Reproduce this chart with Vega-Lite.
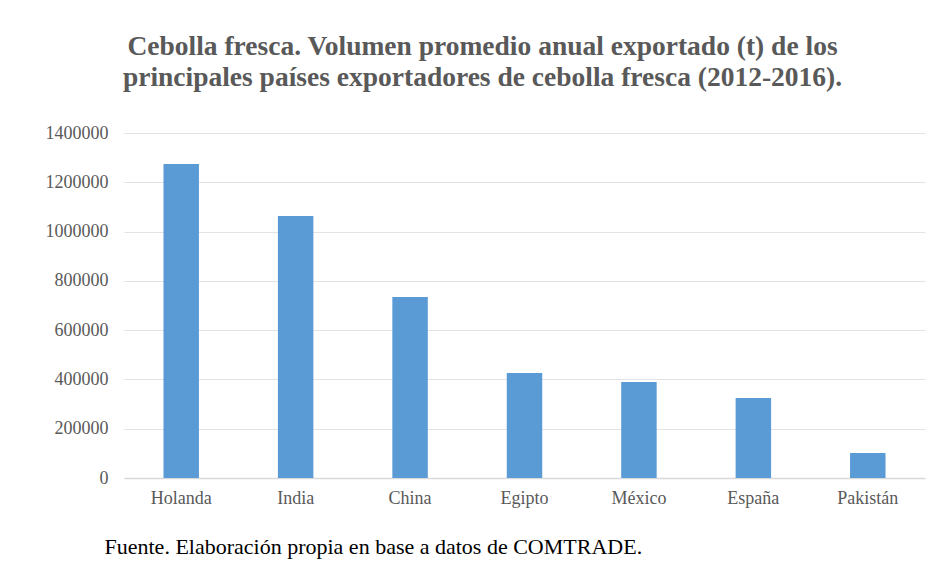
{
  "$schema": "https://vega.github.io/schema/vega-lite/v6.json",
  "width": 801,
  "height": 345,
  "autosize": "none",
  "padding": {"left": 124, "top": 133, "right": 15, "bottom": 85},
  "background": "white",
  "title": {
    "text": ["Cebolla fresca. Volumen promedio anual exportado (t) de los", "principales países exportadores de cebolla fresca (2012-2016)."],
    "font": "Liberation Serif, Times New Roman, serif",
    "fontSize": 27.5,
    "fontWeight": "bold",
    "color": "#595959",
    "anchor": "middle",
    "frame": "group",
    "dx": -42,
    "offset": 33,
    "lineHeight": 31
  },
  "data": {
    "values": [
      {"pais": "Holanda", "volumen": 1274000},
      {"pais": "India", "volumen": 1063000},
      {"pais": "China", "volumen": 734000},
      {"pais": "Egipto", "volumen": 426000},
      {"pais": "México", "volumen": 390000},
      {"pais": "España", "volumen": 325000},
      {"pais": "Pakistán", "volumen": 101000}
    ]
  },
  "mark": {"type": "bar", "color": "#5B9BD5"},
  "encoding": {
    "x": {
      "field": "pais",
      "type": "nominal",
      "sort": null,
      "scale": {"paddingInner": 0.69, "paddingOuter": 0.345},
      "axis": {
        "title": "Fuente. Elaboración propia en base a datos de COMTRADE.",
        "titleFont": "Liberation Serif, Times New Roman, serif",
        "titleFontSize": 22,
        "titleFontWeight": "normal",
        "titleColor": "#000000",
        "titleAnchor": "start",
        "titleAlign": "left",
        "titleX": -20,
        "titlePadding": 29,
        "labelAngle": 0,
        "labelFont": "Liberation Serif, Times New Roman, serif",
        "labelFontSize": 18,
        "labelColor": "#595959",
        "labelPadding": 11,
        "ticks": false,
        "domainColor": "#d9d9d9",
        "domainWidth": 1.5
      }
    },
    "y": {
      "field": "volumen",
      "type": "quantitative",
      "scale": {"domain": [0, 1400000]},
      "axis": {
        "title": null,
        "values": [0, 200000, 400000, 600000, 800000, 1000000, 1200000, 1400000],
        "format": "d",
        "labelFont": "Liberation Serif, Times New Roman, serif",
        "labelFontSize": 18,
        "labelColor": "#595959",
        "labelPadding": 16,
        "ticks": false,
        "domain": false,
        "gridColor": "#e3e3e3",
        "gridWidth": 1
      }
    }
  },
  "config": {"view": {"stroke": null}}
}
